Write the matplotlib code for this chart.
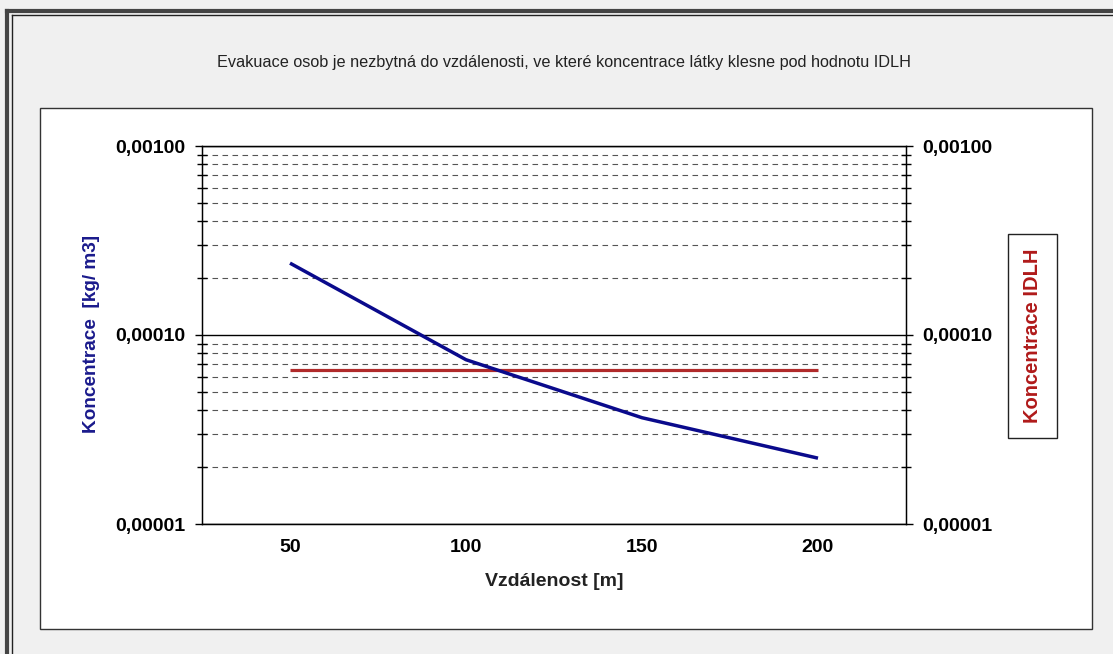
import numpy as np
import matplotlib
matplotlib.use('Agg')
import matplotlib.pyplot as plt
from matplotlib.patches import Rectangle
from matplotlib.lines import Line2D
from matplotlib.ticker import FixedLocator, LogLocator, NullFormatter, FuncFormatter

plt.rcParams['font.family'] = ['Liberation Sans', 'DejaVu Sans']

# data
vzdalenost = [50, 100, 150, 200]
koncentrace = [2.40e-4, 7.4e-5, 3.65e-5, 2.23e-5]
idlh = [6.5e-5, 6.5e-5, 6.5e-5, 6.5e-5]
x_ticks = [50, 100, 150, 200]
y_ticks = [1e-5, 1e-4, 1e-3]

title = 'Evakuace osob je nezbytná do vzdálenosti, ve které koncentrace látky klesne pod hodnotu IDLH'

W, H = 1113, 654
fig = plt.figure(figsize=(W / 100, H / 100), dpi=100)
fig.patch.set_facecolor('#f0f0f0')


def fx(px):
    return px / W


def fy(py):
    return 1 - py / H


# outer frame (left + top), double line
fig.add_artist(Line2D([fx(7), fx(7)], [0, fy(11)], color='#444444', lw=3))
fig.add_artist(Line2D([fx(7), 1], [fy(11), fy(11)], color='#444444', lw=3))
fig.add_artist(Line2D([fx(12), fx(12)], [0, fy(15)], color='#222222', lw=1))
fig.add_artist(Line2D([fx(12), 1], [fy(15), fy(15)], color='#222222', lw=1))

# white chart panel
fig.add_artist(Rectangle((fx(40), fy(629)), fx(1092) - fx(40), fy(108) - fy(629),
                         transform=fig.transFigure, facecolor='white',
                         edgecolor='#333333', lw=1, zorder=0))

fig.text(fx(564), fy(63), title, ha='center', va='center', fontsize=11.7, color='#222222')

ax = fig.add_axes([fx(202), fy(524), fx(906) - fx(202), fy(146) - fy(524)])
ax.set_facecolor('white')
ax.set_yscale('log')
ax.set_ylim(1e-5, 1e-3)
ax.set_xlim(25, 225)

ax.plot(vzdalenost, idlh, color='#b02a2a', lw=2.3, solid_capstyle='butt', zorder=3)
ax.plot(vzdalenost, koncentrace, color='#0a0a8c', lw=2.5, solid_capstyle='butt', zorder=4)

fmt = FuncFormatter(lambda v, p: ('%.5f' % v).replace('.', ','))
ax.yaxis.set_major_locator(FixedLocator(y_ticks))
ax.yaxis.set_major_formatter(fmt)
ax.yaxis.set_minor_locator(LogLocator(base=10, subs=np.arange(2, 10)))
ax.yaxis.set_minor_formatter(NullFormatter())
ax.set_xticks(x_ticks)

ax.grid(True, which='major', axis='y', color='black', lw=1)
ax.grid(True, which='minor', axis='y', color='#555555', lw=0.8, linestyle=(0, (5, 4)))
ax.set_axisbelow(True)

ax.tick_params(axis='y', which='major', direction='out', length=5, width=1, pad=7,
               labelsize=14, right=False)
ax.tick_params(axis='y', which='minor', direction='inout', length=6.5, width=1)
ax.tick_params(axis='x', length=0, pad=11, labelsize=14)
for lab in ax.get_xticklabels() + ax.get_yticklabels():
    lab.set_fontweight('bold')
for s in ax.spines.values():
    s.set_color('black')
    s.set_linewidth(1)

ax2 = ax.twinx()
ax2.set_yscale('log')
ax2.set_ylim(1e-5, 1e-3)
ax2.yaxis.set_major_locator(FixedLocator(y_ticks))
ax2.yaxis.set_major_formatter(fmt)
ax2.yaxis.set_minor_locator(LogLocator(base=10, subs=np.arange(2, 10)))
ax2.yaxis.set_minor_formatter(NullFormatter())
ax2.tick_params(axis='y', which='major', direction='out', length=5, width=1, pad=7, labelsize=14)
ax2.tick_params(axis='y', which='minor', direction='inout', length=6.5, width=1)
for lab in ax2.get_yticklabels():
    lab.set_fontweight('bold')

# axis titles
fig.text(fx(554), fy(581), 'Vzdálenost [m]', ha='center', va='center',
         fontsize=14, fontweight='bold', color='#222222')
fig.text(fx(92), fy(334), 'Koncentrace  [kg/ m3]', ha='center', va='center', rotation=90,
         fontsize=13.7, fontweight='bold', color='#1a1a8c')
fig.text(fx(1033), fy(336), 'Koncentrace IDLH', ha='center', va='center', rotation=90,
         fontsize=14.5, fontweight='bold', color='#b01a1a')
fig.add_artist(Rectangle((fx(1008), fy(438)), fx(1057) - fx(1008), fy(234) - fy(438),
                         transform=fig.transFigure, facecolor='none',
                         edgecolor='#222222', lw=1))

fig.savefig('out.png', dpi=100, facecolor=fig.get_facecolor())
